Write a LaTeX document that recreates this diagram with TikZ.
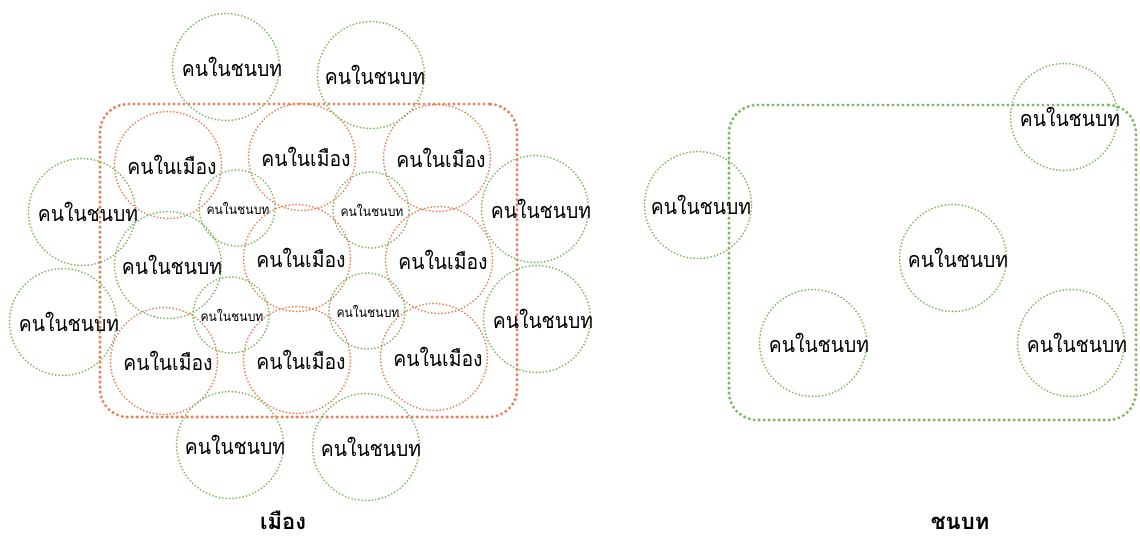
\documentclass[tikz,border=0pt]{standalone}
\usepackage{fontspec}
\newfontfamily\thai[Script=Thai]{Loma}
\newfontfamily\thainarrow[Script=Thai,FakeStretch=0.9]{Loma}
\definecolor{rg}{RGB}{125,184,94}
\definecolor{uo}{RGB}{234,128,86}
\begin{document}
\begin{tikzpicture}[x=1pt,y=-1pt,
  ring/.style={circle, line width=2pt, dash pattern=on 0pt off 3.4pt, line cap=round, inner sep=0pt},
  rural/.style={ring, draw=rg, minimum size=107pt},
  urban/.style={ring, draw=uo, minimum size=107pt},
  smallr/.style={ring, draw=rg, minimum size=76pt},
  lab/.style={font=\thainarrow\fontsize{21.5}{22}\selectfont, text=black, inner sep=0pt},
  slab/.style={font=\thainarrow\fontsize{13.5}{14}\selectfont, text=black, inner sep=0pt},
  title/.style={font=\thai\bfseries\fontsize{22}{24}\selectfont, text=black, inner sep=0pt, anchor=base},
  area/.style={rectangle, line width=3.4pt, dash pattern=on 0pt off 5pt, line cap=round, rounded corners=28pt, inner sep=0pt}
]
\useasboundingbox (0,0) rectangle (1140,544);
% city area
\node[area, draw=uo, minimum width=417pt, minimum height=313pt] (city) at (308.5,260.5) {};
% urban circles
\node[urban, label={[lab,xshift=4pt]center:คนในเมือง}] (u1) at (168,165) {};
\node[urban, label={[lab,xshift=4pt]center:คนในเมือง}] (u2) at (302,157) {};
\node[urban, label={[lab,xshift=4pt]center:คนในเมือง}] (u3) at (437,158) {};
\node[urban, label={[lab,xshift=4pt]center:คนในเมือง}] (u4) at (297,258) {};
\node[urban, label={[lab,xshift=4pt]center:คนในเมือง}] (u5) at (439,260) {};
\node[urban, label={[lab,xshift=4pt]center:คนในเมือง}] (u6) at (164,361) {};
\node[urban, label={[lab,xshift=4pt]center:คนในเมือง}] (u7) at (297,360) {};
\node[urban, label={[lab,xshift=4pt]center:คนในเมือง}] (u8) at (434,357) {};
% rural circles inside city
\node[rural, label={[lab,xshift=4pt]center:คนในชนบท}] (r0) at (168,265) {};
\node[smallr, label={[slab,xshift=1pt]center:คนในชนบท}] (s1) at (237,208) {};
\node[smallr, label={[slab,xshift=1pt]center:คนในชนบท}] (s2) at (371,210) {};
\node[smallr, label={[slab,xshift=1pt]center:คนในชนบท}] (s3) at (231,315) {};
\node[smallr, label={[slab,xshift=1pt]center:คนในชนบท}] (s4) at (367,311) {};
% rural circles around city
\node[rural, label={[lab,xshift=6pt]center:คนในชนบท}] (t1) at (226,67) {};
\node[rural, label={[lab,xshift=4pt]center:คนในชนบท}] (t2) at (371,75) {};
\node[rural, label={[lab,xshift=6pt]center:คนในชนบท}] (l1) at (82,212) {};
\node[rural, label={[lab,xshift=6pt]center:คนในชนบท}] (l2) at (63,322) {};
\node[rural, label={[lab,xshift=6pt]center:คนในชนบท}] (rt1) at (535,209) {};
\node[rural, label={[lab,xshift=6pt]center:คนในชนบท}] (rt2) at (537,319) {};
\node[rural, label={[lab,xshift=5pt]center:คนในชนบท}] (b1) at (230,445) {};
\node[rural, label={[lab,xshift=5pt]center:คนในชนบท}] (b2) at (366,447) {};
\node[title] (tcity) at (283,529) {เมือง};
% countryside
\node[area, draw=rg, minimum width=407pt, minimum height=315pt] (rural) at (932.5,262.5) {};
\node[rural, label={[lab,xshift=6pt]center:คนในชนบท}] (c1) at (1064,117) {};
\node[rural, label={[lab,xshift=3pt]center:คนในชนบท}] (c2) at (698,205) {};
\node[rural, label={[lab,xshift=5pt]center:คนในชนบท}] (c3) at (953,258) {};
\node[rural, label={[lab,xshift=6pt]center:คนในชนบท}] (c4) at (813,343) {};
\node[rural, label={[lab,xshift=6pt]center:คนในชนบท}] (c5) at (1071,343) {};
\node[title] (trural) at (960,529) {ชนบท};
\end{tikzpicture}
\end{document}
